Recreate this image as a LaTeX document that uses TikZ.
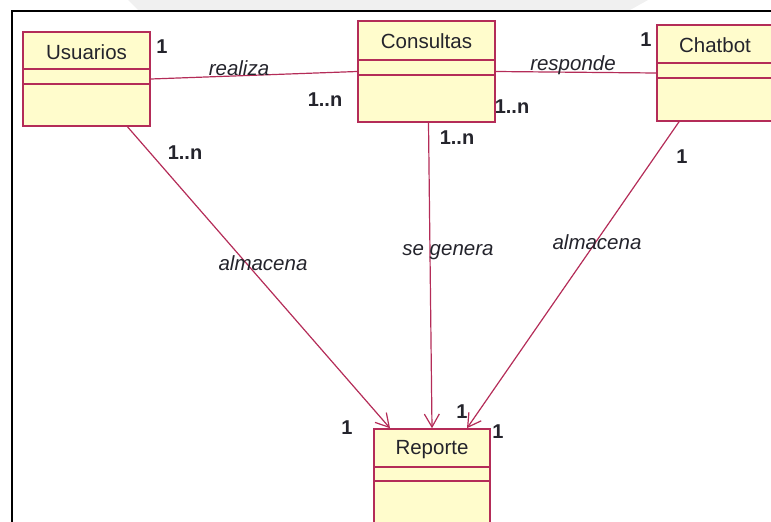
\documentclass[tikz,border=0pt]{standalone}
\usepackage{fontspec}
\setmainfont{Liberation Sans}
\usetikzlibrary{arrows.meta}

\definecolor{roseline}{RGB}{180,44,88}
\definecolor{rosefill}{RGB}{255,252,204}
\definecolor{rosetext}{RGB}{36,36,44}

\begin{document}
\begin{tikzpicture}[x=1pt,y=-1pt,
    clase/.style={draw=roseline, fill=rosefill, line width=1.6pt, inner sep=0pt},
    divisor/.style={draw=roseline, line width=1.6pt},
    asoc/.style={draw=roseline, line width=1.2pt},
    nav/.style={asoc, -{Straight Barb[length=13pt,width=15pt,line width=1.2pt]}},
    nombre/.style={text=rosetext, font=\fontsize{20.5}{24}\selectfont},
    mult/.style={text=rosetext, font=\fontsize{20}{24}\selectfont\bfseries},
    rol/.style={text=rosetext, font=\fontsize{20.5}{24}\selectfont\itshape}]

    \useasboundingbox (0,0) rectangle (771,522);

    % Background mark and frame
    \fill[gray!12] (128,0) -- (138,10) -- (630,10) -- (648,0) -- cycle;
    \draw[line width=2pt] (12,530) -- (12,11) -- (780,11);

    % Draw classes
    \node[clase, minimum width=127, minimum height=94] (usu) at (86.5,79) {};
    \node[clase, minimum width=137, minimum height=101] (con) at (426.5,71.5) {};
    \node[clase, minimum width=116, minimum height=96] (cha) at (715,73) {};
    \node[clase, minimum width=116, minimum height=96] (rep) at (432,477) {};

    % Compartments
    \draw[divisor] ([yshift=-38]usu.north west) -- ([yshift=-38]usu.north east);
    \draw[divisor] ([yshift=-53]usu.north west) -- ([yshift=-53]usu.north east);
    \draw[divisor] ([yshift=-40]con.north west) -- ([yshift=-40]con.north east);
    \draw[divisor] ([yshift=-55]con.north west) -- ([yshift=-55]con.north east);
    \draw[divisor] ([yshift=-39]cha.north west) -- ([yshift=-39]cha.north east);
    \draw[divisor] ([yshift=-54]cha.north west) -- ([yshift=-54]cha.north east);
    \draw[divisor] ([yshift=-39]rep.north west) -- ([yshift=-39]rep.north east);
    \draw[divisor] ([yshift=-53]rep.north west) -- ([yshift=-53]rep.north east);

    % Class names
    \node[nombre] (usunom) at ([yshift=-21]usu.north) {Usuarios};
    \node[nombre] (connom) at ([yshift=-21]con.north) {Consultas};
    \node[nombre] (chanom) at ([yshift=-21]cha.north) {Chatbot};
    \node[nombre] (repnom) at ([yshift=-21]rep.north) {Reporte};

    % Associations
    \draw[asoc] (usu.east) -- (con.west);
    \draw[asoc] (con.east) -- (cha.west);
    \draw[nav] ([xshift=41]usu.south) -- ([xshift=-42]rep.north);
    \draw[nav] ([xshift=2]con.south) -- (rep.north);
    \draw[nav] ([xshift=-36]cha.south) -- ([xshift=35]rep.north);

    % Role names
    \node[rol] (realiza) at (239,68) {realiza};
    \node[rol] (responde) at (573,65) {responde};
    \node[rol] (almusu) at (263,263) {almacena};
    \node[rol] (segenera) at (448,252) {se genera};
    \node[rol] (almcha) at (597,242) {almacena};

    % Multiplicities
    \node[mult] (m1) at (162,47) {1};
    \node[mult] (m2) at (325,100) {1..n};
    \node[mult] (m3) at (185,153) {1..n};
    \node[mult] (m4) at (646,40) {1};
    \node[mult] (m5) at (512,107) {1..n};
    \node[mult] (m6) at (457,138) {1..n};
    \node[mult] (m7) at (682,157) {1};
    \node[mult] (m8) at (347,428) {1};
    \node[mult] (m9) at (462,412) {1};
    \node[mult] (m10) at (498,432) {1};
\end{tikzpicture}
\end{document}
